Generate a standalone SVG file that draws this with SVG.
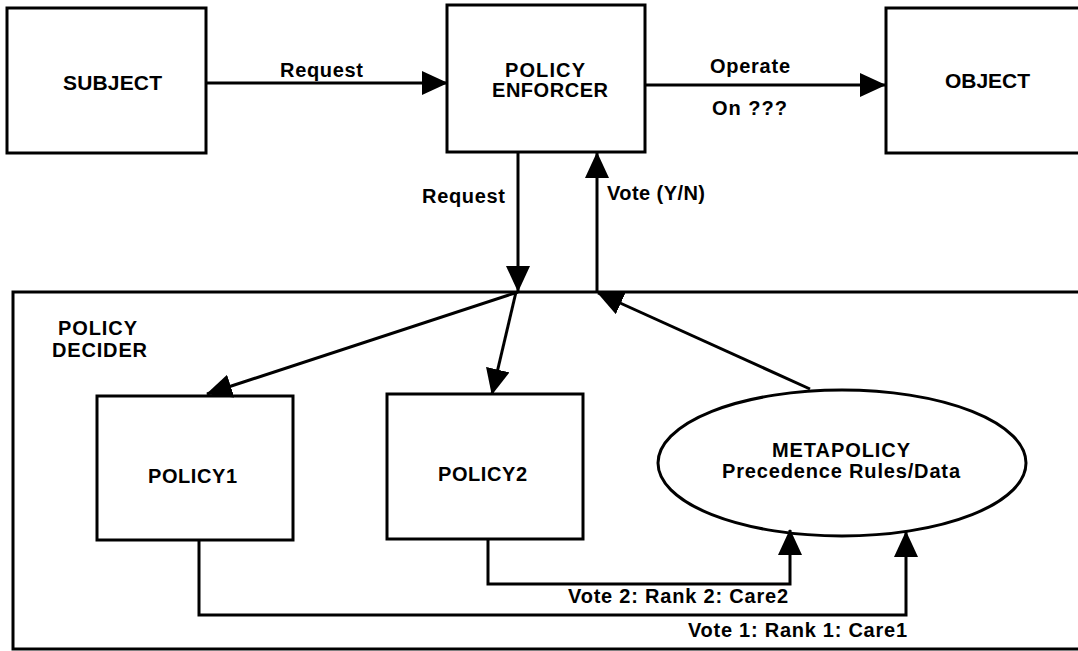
<svg xmlns="http://www.w3.org/2000/svg" width="1078" height="651" viewBox="0 0 1078 651">
<defs>
<style>
.box{fill:#fff;stroke:#000;stroke-width:3}
.ln{fill:none;stroke:#000;stroke-width:3}
.t{font-family:"Liberation Sans",Arial,sans-serif;font-weight:bold;font-size:20px;fill:#000}
</style>
<marker id="ah" viewBox="0 0 26 24" markerUnits="userSpaceOnUse" markerWidth="26" markerHeight="24" refX="25" refY="12" orient="auto">
<path d="M0,0 L26,12 L0,24 z" fill="#000"/>
</marker>
</defs>
<rect width="1078" height="651" fill="#fff"/>
<g id="decider">
<rect class="box" x="13" y="292" width="1090" height="357"/>
<text class="t" x="58" y="335" textLength="79" lengthAdjust="spacing">POLICY</text>
<text class="t" x="52" y="357" textLength="95" lengthAdjust="spacing">DECIDER</text>
</g>
<g id="subject">
<rect class="box" x="7" y="8" width="199" height="145"/>
<text class="t" x="63" y="90" textLength="99" lengthAdjust="spacing" style="font-size:21px">SUBJECT</text>
</g>
<g id="enforcer">
<rect class="box" x="447" y="5" width="198" height="147"/>
<text class="t" x="505" y="77" textLength="80" lengthAdjust="spacing">POLICY</text>
<text class="t" x="492" y="97" textLength="116" lengthAdjust="spacing">ENFORCER</text>
</g>
<g id="object">
<rect class="box" x="886" y="8" width="210" height="145"/>
<text class="t" x="945" y="88" textLength="85" lengthAdjust="spacing" style="font-size:21px">OBJECT</text>
</g>
<g id="policy1">
<rect class="box" x="97" y="396" width="196" height="144"/>
<text class="t" x="148" y="483" textLength="89" lengthAdjust="spacing">POLICY1</text>
</g>
<g id="policy2">
<rect class="box" x="387" y="394" width="196" height="145"/>
<text class="t" x="438" y="481" textLength="89" lengthAdjust="spacing">POLICY2</text>
</g>
<g id="metapolicy">
<ellipse class="box" cx="842" cy="463" rx="184" ry="73"/>
<text class="t" x="772" y="457" textLength="138" lengthAdjust="spacing">METAPOLICY</text>
<text class="t" x="722" y="478" textLength="238" lengthAdjust="spacing">Precedence Rules/Data</text>
</g>
<g id="connectors">
<line class="ln" x1="206" y1="83" x2="447" y2="83" marker-end="url(#ah)"/>
<line class="ln" x1="645" y1="85" x2="885" y2="85" marker-end="url(#ah)"/>
<line class="ln" x1="518" y1="152" x2="518" y2="291" marker-end="url(#ah)"/>
<line class="ln" x1="597" y1="291" x2="597" y2="153" marker-end="url(#ah)"/>
<line class="ln" x1="518" y1="292" x2="207" y2="394" marker-end="url(#ah)"/>
<line class="ln" x1="516" y1="292" x2="492" y2="394" marker-end="url(#ah)"/>
<line class="ln" x1="810" y1="389" x2="598" y2="293" marker-end="url(#ah)"/>
<polyline class="ln" points="488,540 488,584 790,584 790,530" marker-end="url(#ah)"/>
<polyline class="ln" points="199,540 199,615 906,615 906,532" marker-end="url(#ah)"/>
<text class="t" x="280" y="77" textLength="83" lengthAdjust="spacing">Request</text>
<text class="t" x="710" y="73" textLength="80" lengthAdjust="spacing">Operate</text>
<text class="t" x="712" y="115" textLength="75" lengthAdjust="spacing">On ???</text>
<text class="t" x="422" y="203" textLength="83" lengthAdjust="spacing">Request</text>
<text class="t" x="607" y="200" textLength="98" lengthAdjust="spacing">Vote (Y/N)</text>
<text class="t" x="568" y="603" textLength="220" lengthAdjust="spacing">Vote 2: Rank 2: Care2</text>
<text class="t" x="688" y="637" textLength="219" lengthAdjust="spacing">Vote 1: Rank 1: Care1</text>
</g>
</svg>
